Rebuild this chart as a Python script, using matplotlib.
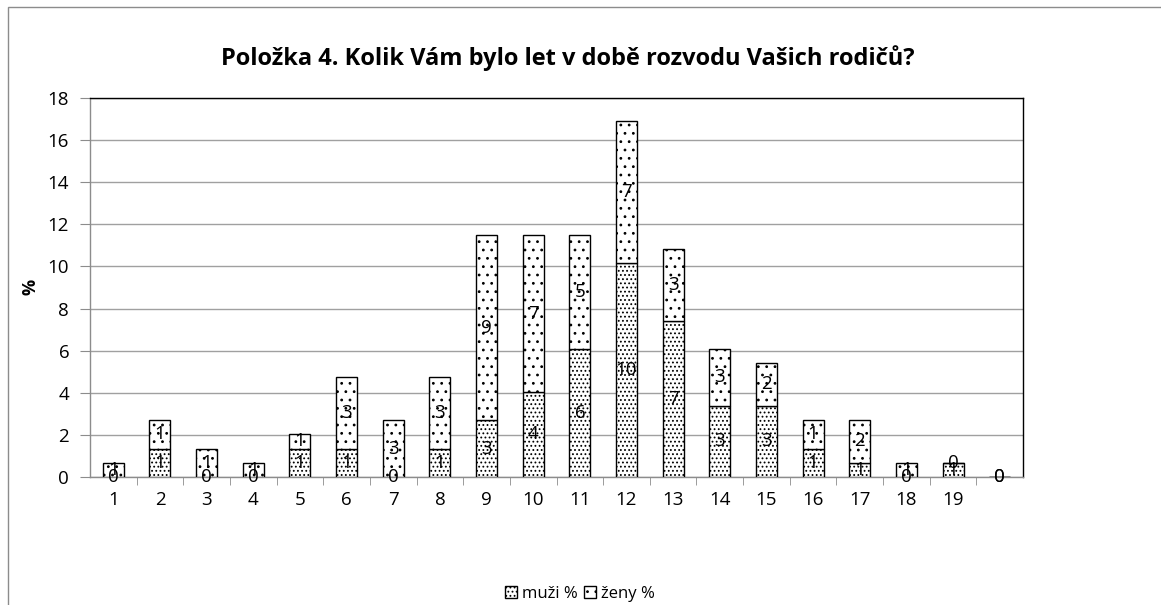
import matplotlib
matplotlib.use("Agg")
import matplotlib.pyplot as plt
from matplotlib.patches import Rectangle
import numpy as np

plt.rcParams['font.family'] = ['Open Sans', 'DejaVu Sans']
plt.rcParams['hatch.linewidth'] = 0.8

categories = ["1", "2", "3", "4", "5", "6", "7", "8", "9", "10",
              "11", "12", "13", "14", "15", "16", "17", "18", "19", ""]
muzi = [0, 1.35, 0, 0, 1.35, 1.35, 0, 1.35, 2.70, 4.05,
        6.08, 10.14, 7.43, 3.38, 3.38, 1.35, 0.68, 0, 0.68, 0]
zeny = [0.68, 1.35, 1.35, 0.68, 0.68, 3.38, 2.70, 3.38, 8.78, 7.43,
        5.41, 6.76, 3.38, 2.70, 2.03, 1.35, 2.03, 0.68, 0, 0]
series_names = ["muži %", "ženy %"]
title = "Položka 4. Kolik Vám bylo let v době rozvodu Vašich rodičů?"

W, H = 1161, 605
fig = plt.figure(figsize=(W / 100, H / 100), dpi=100)
fig.patch.set_facecolor("white")
# outer chart border (left & top visible)
fig.patches.append(Rectangle((8 / W, -0.1), 1.2, 1 - 7 / H + 0.1, transform=fig.transFigure,
                             fill=False, edgecolor="#8c8c8c", linewidth=1.0))

ax = fig.add_axes([90 / W, 1 - 477 / H, (1023 - 90) / W, (477 - 98) / H])
x = np.arange(len(categories))
bw = 0.45
b1 = ax.bar(x, muzi, bw, color="white", edgecolor="black", hatch="....", linewidth=1.0,
            label=series_names[0], zorder=3)
b2 = ax.bar(x, zeny, bw, bottom=muzi, color="white", edgecolor="black", hatch="..",
            linewidth=1.0, label=series_names[1], zorder=3)

for xi, m, z in zip(x, muzi, zeny):
    ax.text(xi, m / 2, f"{m:.0f}", ha="center", va="center", fontsize=13.5, zorder=5)
    ax.text(xi, m + z / 2, f"{z:.0f}", ha="center", va="center", fontsize=13.5, zorder=5)

ax.set_xlim(-0.5, len(categories) - 0.5)
ax.set_ylim(0, 18)
ax.set_yticks(np.arange(0, 19, 2))
ax.yaxis.grid(True, color="#a0a0a0", linewidth=1.0, zorder=0)
ax.set_axisbelow(True)
ax.set_xticks(x)
ax.set_xticklabels(categories)
ax.set_xticks(np.arange(0.5, len(categories) - 0.5, 1.0), minor=True)
ax.tick_params(axis="x", which="major", length=0, pad=10, labelsize=13.5)
ax.tick_params(axis="x", which="minor", length=6, color="#8c8c8c", direction="out")
ax.tick_params(axis="y", length=7, pad=8, labelsize=13.5, color="#8c8c8c")
for s in ax.spines.values():
    s.set_color("black")
    s.set_linewidth(1.0)
ax.spines["bottom"].set_color("#8c8c8c")
ax.spines["left"].set_color("#8c8c8c")

fig.text(31 / W, 1 - 287 / H, "%", rotation=90, ha="center", va="center",
         fontsize=13, fontweight="bold")
fig.text(568 / W, 1 - 58 / H, title, ha="center", va="center", fontsize=17, fontweight="bold")

fig.legend(handles=[b1, b2], labels=series_names, loc="center",
           bbox_to_anchor=(580 / W, 1 - 594 / H), ncol=2, frameon=False, fontsize=12,
           handlelength=0.7, handleheight=0.7, handletextpad=0.3, columnspacing=0.4)

fig.savefig("out.png", dpi=100, facecolor="white")
